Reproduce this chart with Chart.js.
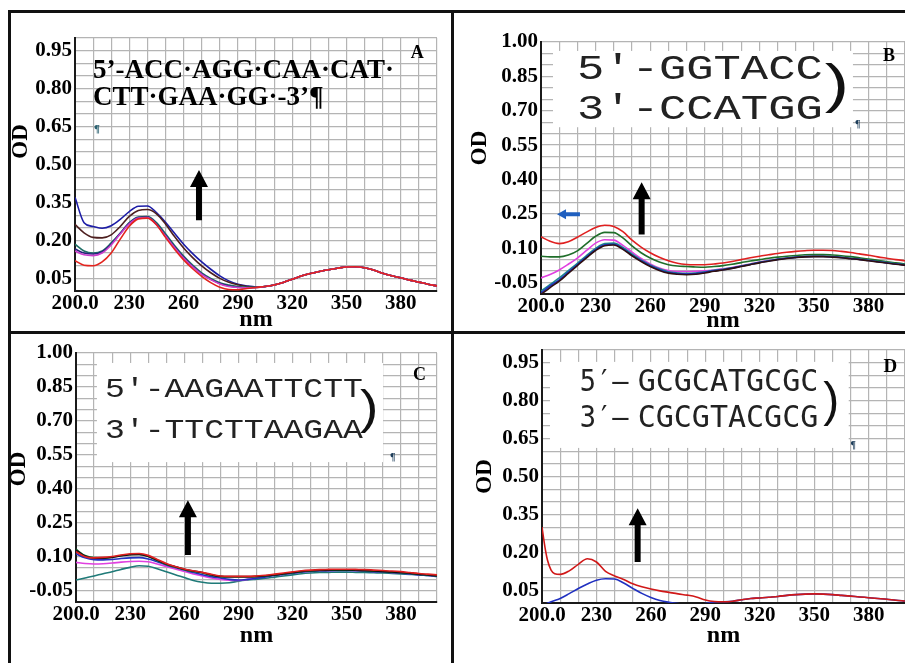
<!DOCTYPE html>
<html><head><meta charset="utf-8">
<script src="https://cdn.jsdelivr.net/npm/chart.js@4.4.1/dist/chart.umd.min.js"></script>
<style>
html,body{margin:0;padding:0;background:#fff;}
#wrap{position:relative;width:905px;height:663px;overflow:hidden;background:#fff;}
canvas{position:absolute;left:0;top:0;}
.ln{position:absolute;background:#111;}
</style></head><body>
<div id="wrap">
<canvas id="cA" width="905" height="663"></canvas>
<canvas id="cB" width="905" height="663"></canvas>
<canvas id="cC" width="905" height="663"></canvas>
<canvas id="cD" width="905" height="663"></canvas>
<div class="ln" style="left:8px;top:10px;width:897px;height:3px"></div>
<div class="ln" style="left:8px;top:10px;width:3px;height:653px"></div>
<div class="ln" style="left:451px;top:10px;width:3px;height:653px"></div>
<div class="ln" style="left:8px;top:331px;width:897px;height:3px"></div>
</div>
<script>
// ---------------- data ----------------
const wavelengths = [200,205,210,215,220,225,230,235,240,245,250,255,260,265,270,275,280,285,290,295,300,305,310,315,320,325,330,335,340,345,350,355,360,365,370,375,380,385,390,395,400];
const wavelengthsD = [200,201,202,203,205,207,210,215,220,225,230,235,240,245,250,255,260,265,270,275,280,285,290,295,300,305,310,315,320,325,330,335,340,345,350,355,360,365,370,375,380,385,390,395,400];

const xTickValues = [200,230,260,290,320,350,380];
const xTickLabels = ['200.0','230','260','290','320','350','380'];
const yTickLabelsA = ['0.05','0.20','0.35','0.50','0.65','0.80','0.95'];
const yTickLabelsB = ['-0.05','0.10','0.25','0.40','0.55','0.70','0.85','1.00'];
const yTickLabelsC = ['-0.05','0.10','0.25','0.40','0.55','0.70','0.85','1.00'];
const yTickLabelsD = ['0.05','0.20','0.35','0.50','0.65','0.80','0.95'];

// Panel A
const odA_red     = [0.120,0.102,0.100,0.115,0.150,0.205,0.256,0.285,0.288,0.262,0.212,0.165,0.123,0.088,0.058,0.033,0.015,0.006,0.005,0.010,0.014,0.018,0.024,0.034,0.046,0.059,0.069,0.077,0.084,0.090,0.095,0.096,0.092,0.083,0.070,0.060,0.052,0.043,0.035,0.027,0.020];
const odA_blue    = [0.370,0.270,0.255,0.248,0.258,0.283,0.314,0.335,0.336,0.310,0.272,0.228,0.185,0.148,0.115,0.086,0.060,0.040,0.027,0.020,0.016,0.018,0.024,0.034,0.046,0.059,0.069,0.077,0.084,0.090,0.095,0.096,0.092,0.083,0.070,0.060,0.052,0.043,0.035,0.027,0.020];
const odA_brown   = [0.263,0.230,0.212,0.210,0.222,0.255,0.295,0.318,0.322,0.305,0.265,0.215,0.170,0.132,0.099,0.072,0.050,0.035,0.025,0.018,0.015,0.018,0.024,0.034,0.046,0.059,0.069,0.077,0.084,0.090,0.095,0.096,0.092,0.083,0.070,0.060,0.052,0.043,0.035,0.027,0.020];
const odA_teal    = [0.185,0.158,0.150,0.158,0.190,0.228,0.270,0.292,0.294,0.270,0.226,0.180,0.138,0.102,0.072,0.050,0.033,0.024,0.018,0.015,0.015,0.018,0.024,0.034,0.046,0.059,0.069,0.077,0.084,0.090,0.095,0.096,0.092,0.083,0.070,0.060,0.052,0.043,0.035,0.027,0.020];
const odA_navy    = [0.166,0.150,0.146,0.155,0.186,0.228,0.268,0.290,0.292,0.265,0.220,0.175,0.133,0.097,0.068,0.046,0.030,0.020,0.015,0.013,0.014,0.018,0.024,0.034,0.046,0.059,0.069,0.077,0.084,0.090,0.095,0.096,0.092,0.083,0.070,0.060,0.052,0.043,0.035,0.027,0.020];
const odA_magenta = [0.158,0.143,0.140,0.150,0.182,0.225,0.265,0.288,0.290,0.262,0.217,0.172,0.130,0.095,0.066,0.045,0.028,0.018,0.014,0.013,0.014,0.018,0.024,0.034,0.046,0.059,0.069,0.077,0.084,0.090,0.095,0.096,0.092,0.083,0.070,0.060,0.052,0.043,0.035,0.027,0.020];

// Panel B
const odB_red     = [0.150,0.130,0.120,0.128,0.148,0.170,0.190,0.200,0.195,0.172,0.135,0.105,0.080,0.060,0.045,0.034,0.029,0.028,0.028,0.031,0.035,0.042,0.050,0.058,0.065,0.071,0.077,0.082,0.086,0.089,0.091,0.091,0.090,0.086,0.081,0.075,0.069,0.062,0.056,0.050,0.045];
const odB_green   = [0.065,0.062,0.062,0.070,0.088,0.120,0.152,0.169,0.168,0.145,0.110,0.080,0.057,0.040,0.028,0.022,0.020,0.018,0.017,0.020,0.024,0.030,0.037,0.044,0.050,0.056,0.061,0.065,0.068,0.071,0.072,0.072,0.070,0.067,0.063,0.058,0.053,0.047,0.041,0.036,0.031];
const odB_magenta = [-0.030,-0.015,0.005,0.030,0.057,0.090,0.122,0.137,0.135,0.112,0.083,0.055,0.031,0.013,0.002,-0.002,-0.002,-0.001,0.001,0.005,0.010,0.016,0.023,0.031,0.039,0.046,0.052,0.057,0.061,0.064,0.065,0.065,0.063,0.060,0.056,0.052,0.047,0.042,0.037,0.032,0.028];
const odB_teal    = [-0.088,-0.058,-0.030,0.002,0.034,0.068,0.099,0.120,0.122,0.103,0.075,0.049,0.027,0.010,-0.003,-0.008,-0.010,-0.008,-0.003,0.003,0.008,0.014,0.022,0.030,0.038,0.045,0.052,0.057,0.061,0.064,0.065,0.065,0.063,0.060,0.056,0.052,0.047,0.042,0.037,0.032,0.028];
const odB_blue    = [-0.095,-0.065,-0.038,-0.005,0.028,0.062,0.094,0.115,0.117,0.098,0.070,0.045,0.023,0.006,-0.006,-0.011,-0.013,-0.011,-0.005,0.001,0.006,0.013,0.021,0.029,0.037,0.044,0.051,0.056,0.060,0.063,0.064,0.064,0.062,0.059,0.055,0.051,0.046,0.041,0.036,0.031,0.027];
const odB_black   = [-0.102,-0.072,-0.044,-0.010,0.024,0.058,0.090,0.111,0.114,0.095,0.067,0.042,0.020,0.003,-0.009,-0.014,-0.016,-0.014,-0.008,-0.001,0.005,0.012,0.020,0.028,0.036,0.043,0.050,0.055,0.059,0.062,0.063,0.063,0.061,0.058,0.054,0.050,0.045,0.040,0.035,0.030,0.026];

// Panel C
const odC_red     = [0.122,0.100,0.095,0.097,0.101,0.108,0.113,0.114,0.106,0.088,0.070,0.057,0.046,0.038,0.031,0.022,0.015,0.013,0.013,0.013,0.015,0.018,0.023,0.028,0.033,0.038,0.041,0.043,0.044,0.045,0.045,0.044,0.043,0.041,0.039,0.037,0.034,0.030,0.026,0.023,0.020];
const odC_black   = [0.130,0.103,0.094,0.094,0.097,0.104,0.109,0.110,0.102,0.085,0.068,0.056,0.045,0.037,0.030,0.020,0.013,0.012,0.012,0.012,0.013,0.016,0.020,0.025,0.030,0.035,0.038,0.040,0.041,0.042,0.042,0.041,0.039,0.037,0.035,0.033,0.030,0.027,0.023,0.020,0.016];
const odC_green   = [0.133,0.105,0.096,0.095,0.098,0.105,0.110,0.110,0.101,0.083,0.066,0.054,0.043,0.035,0.028,0.018,0.012,0.011,0.011,0.011,0.012,0.015,0.019,0.024,0.029,0.034,0.037,0.039,0.040,0.041,0.041,0.040,0.038,0.036,0.034,0.032,0.029,0.026,0.022,0.019,0.015];
const odC_blue    = [0.113,0.095,0.087,0.086,0.088,0.092,0.095,0.096,0.090,0.078,0.064,0.052,0.041,0.030,0.020,0.012,0.006,0.000,-0.003,0.000,0.005,0.011,0.017,0.022,0.027,0.032,0.035,0.037,0.038,0.039,0.039,0.038,0.036,0.034,0.032,0.030,0.027,0.024,0.020,0.017,0.013];
const odC_magenta = [0.075,0.070,0.068,0.069,0.072,0.076,0.079,0.080,0.078,0.068,0.057,0.046,0.035,0.024,0.015,0.006,0.000,-0.004,-0.005,0.000,0.006,0.012,0.018,0.023,0.028,0.033,0.036,0.038,0.039,0.040,0.040,0.039,0.037,0.035,0.033,0.031,0.028,0.025,0.021,0.018,0.014];
const odC_teal    = [-0.003,0.006,0.015,0.025,0.034,0.044,0.053,0.060,0.058,0.047,0.034,0.020,0.008,-0.005,-0.013,-0.017,-0.017,-0.015,-0.008,-0.003,0.001,0.005,0.010,0.015,0.020,0.025,0.028,0.030,0.031,0.032,0.032,0.031,0.030,0.029,0.028,0.026,0.024,0.022,0.020,0.017,0.014];

// Panel D
const odD_red  = [0.300,0.250,0.205,0.170,0.130,0.116,0.113,0.127,0.153,0.175,0.162,0.125,0.107,0.093,0.076,0.064,0.055,0.048,0.042,0.036,0.031,0.024,0.012,0.006,0.005,0.007,0.013,0.018,0.020,0.023,0.026,0.030,0.033,0.035,0.036,0.035,0.033,0.030,0.027,0.024,0.021,0.018,0.015,0.011,0.008];
const odD_blue = [-0.010,-0.007,-0.004,-0.001,0.005,0.010,0.018,0.037,0.057,0.075,0.090,0.096,0.095,0.079,0.058,0.038,0.022,0.010,0.003,-0.002,-0.005,-0.005,-0.002,0.004,0.005,0.007,0.013,0.018,0.020,0.023,0.026,0.030,0.033,0.035,0.036,0.035,0.033,0.030,0.027,0.024,0.021,0.018,0.015,0.011,0.008];

// ---------------- annotations (data coordinates) ----------------
const SERIF = '"Liberation Serif", "Times New Roman", serif';
const MONO = '"Liberation Mono", monospace';
const notes = {
  cA: {
    boxes: [],
    texts: [
      {text:'5’-ACC·AGG·CAA·CAT·', x:209.9, y:0.842, font:'bold 27px '+SERIF},
      {text:'CTT·GAA·GG·-3’¶', x:209.9, y:0.735, font:'bold 27px '+SERIF},
      {text:'¶', x:210.5, y:0.628, font:'bold 11px '+SERIF, color:'#2a6070'},
      {text:'A', x:385.5, y:0.921, font:'bold 18px '+SERIF}
    ],
    arrows: [{type:'up', x:268.5, y0:0.28, y1:0.478}]
  },
  cB: {
    boxes: [{x0:206.6, x1:371.4, y0:0.961, y1:0.628}],
    texts: [
      {text:'5′-GGTACC', x:219.8, y:0.838, font:'35px '+MONO, sx:1.3, color:'#222'},
      {text:'3′-CCATGG', x:219.8, y:0.663, font:'35px '+MONO, sx:1.3, color:'#222'},
      {text:')', x:362.6, y:0.805, font:'54px "Liberation Sans", sans-serif', sx:1.35, align:'center', baseline:'middle', color:'#111'},
      {text:'¶', x:372.5, y:0.628, font:'bold 10px '+SERIF, color:'#1d3d5a'},
      {text:'B', x:387.9, y:0.917, font:'bold 18px '+SERIF}
    ],
    arrows: [{type:'up', x:255.3, y0:0.160, y1:0.388}, {type:'left', x0:208.8, x1:221.4, y:0.248, color:'#1f5fbf'}]
  },
  cC: {
    boxes: [{x0:211.6, x1:370.1, y0:0.956, y1:0.518}],
    texts: [
      {text:'5′-AAGAATTCTT', x:216.1, y:0.805, font:'28px '+MONO, sx:1.18, color:'#222'},
      {text:'3′-TTCTTAAGAA', x:216.1, y:0.624, font:'28px '+MONO, sx:1.18, color:'#222'},
      {text:')', x:362.5, y:0.748, font:'46px "Liberation Sans", sans-serif', sx:1.2, align:'center', baseline:'middle', color:'#111'},
      {text:'¶', x:374, y:0.527, font:'bold 10px '+SERIF, color:'#1d3d5a'},
      {text:'C', x:386.7, y:0.881, font:'bold 18px '+SERIF}
    ],
    arrows: [{type:'up', x:262, y0:0.108, y1:0.35}]
  },
  cD: {
    boxes: [{x0:204.4, x1:369, y0:0.953, y1:0.613}],
    texts: [
      {text:'5′–', x:220.8, y:0.838, font:'30px "DejaVu Sans Mono", monospace', sx:0.9, color:'#222'},
      {text:'GCGCATGCGC', x:252.7, y:0.838, font:'30px "DejaVu Sans Mono", monospace', color:'#222'},
      {text:'3′–', x:220.8, y:0.696, font:'30px "DejaVu Sans Mono", monospace', sx:0.9, color:'#222'},
      {text:'CGCGTACGCG', x:252.7, y:0.696, font:'30px "DejaVu Sans Mono", monospace', color:'#222'},
      {text:')', x:359.4, y:0.792, font:'48px "Liberation Sans", sans-serif', align:'center', baseline:'middle', color:'#111'},
      {text:'¶', x:370, y:0.613, font:'bold 10px '+SERIF, color:'#1d3d5a'},
      {text:'D', x:388.2, y:0.913, font:'bold 19px '+SERIF}
    ],
    arrows: [{type:'up', x:252.7, y0:0.162, y1:0.375}]
  }
};

const notesPlugin = {
  id: 'panelNotes',
  afterDatasetsDraw(chart) {
    const n = notes[chart.canvas.id];
    if (!n) return;
    const ctx = chart.ctx, xs = chart.scales.x, ys = chart.scales.y;
    const X = v => xs.getPixelForValue(v), Y = v => ys.getPixelForValue(v);
    ctx.save();
    n.boxes.forEach(b => {
      const x0 = X(b.x0), x1 = X(b.x1), y0 = Y(b.y0), y1 = Y(b.y1);
      ctx.fillStyle = '#fff';
      ctx.fillRect(Math.min(x0,x1), Math.min(y0,y1), Math.abs(x1-x0), Math.abs(y1-y0));
    });
    n.texts.forEach(t => {
      ctx.save();
      ctx.font = t.font;
      ctx.fillStyle = t.color || '#000';
      ctx.textAlign = t.align || 'left';
      ctx.textBaseline = t.baseline || 'alphabetic';
      ctx.translate(X(t.x), Y(t.y));
      ctx.scale(t.sx || 1, 1);
      ctx.fillText(t.text, 0, 0);
      ctx.restore();
    });
    n.arrows.forEach(a => {
      ctx.beginPath();
      if (a.type === 'up') {
        const cx = X(a.x), yb = Y(a.y0), yt = Y(a.y1);
        const hl = 17, hw = 9, sw = 3;
        ctx.moveTo(cx, yt);
        ctx.lineTo(cx + hw, yt + hl);
        ctx.lineTo(cx + sw, yt + hl);
        ctx.lineTo(cx + sw, yb);
        ctx.lineTo(cx - sw, yb);
        ctx.lineTo(cx - sw, yt + hl);
        ctx.lineTo(cx - hw, yt + hl);
        ctx.closePath();
      } else {
        const xl = X(a.x0), xr = X(a.x1), cy = Y(a.y);
        const hl = 9, hw = 5, sw = 2;
        ctx.moveTo(xl, cy);
        ctx.lineTo(xl + hl, cy - hw);
        ctx.lineTo(xl + hl, cy - sw);
        ctx.lineTo(xr, cy - sw);
        ctx.lineTo(xr, cy + sw);
        ctx.lineTo(xl + hl, cy + sw);
        ctx.lineTo(xl + hl, cy + hw);
        ctx.closePath();
      }
      ctx.fillStyle = a.color || '#000';
      ctx.fill();
    });
    ctx.restore();
  }
};

// ---------------- panels ----------------
const panels = [
  {id:'cA', wl:wavelengths, yMin:0, yMax:1, yLabels:yTickLabelsA, odTitle:'        OD',
   pad:{left:10, top:38, right:468, bottom:331.5}, yW:65, xH:40.5,
   series:[
     {name:'A red', values:odA_red, color:'#e3241e'},
     {name:'A magenta', values:odA_magenta, color:'#cc3fcc'},
     {name:'A navy', values:odA_navy, color:'#25257a'},
     {name:'A teal', values:odA_teal, color:'#1f6f66'},
     {name:'A brown', values:odA_brown, color:'#4d1f1f'},
     {name:'A blue', values:odA_blue, color:'#1c1ca6'}
   ]},
  {id:'cB', wl:wavelengths, yMin:-0.1, yMax:1, yLabels:yTickLabelsB, odTitle:'       OD',
   pad:{left:468.5, top:42, right:0, bottom:330.5}, yW:72.5, xH:38.5,
   series:[
     {name:'B red', values:odB_red, color:'#e02020'},
     {name:'B black', values:odB_black, color:'#301010'},
     {name:'B blue', values:odB_blue, color:'#2030c0'},
     {name:'B teal', values:odB_teal, color:'#1a8a8a'},
     {name:'B green', values:odB_green, color:'#1f6e2a'},
     {name:'B magenta', values:odB_magenta, color:'#e040e0'}
   ]},
  {id:'cC', wl:wavelengths, yMin:-0.1, yMax:1, yLabels:yTickLabelsC, odTitle:'   OD',
   pad:{left:8, top:353, right:468, bottom:15.5}, yW:68, xH:45.5,
   series:[
     {name:'C red', values:odC_red, color:'#e02020'},
     {name:'C black', values:odC_black, color:'#111111'},
     {name:'C green', values:odC_green, color:'#1d7a3a'},
     {name:'C blue', values:odC_blue, color:'#2030c0'},
     {name:'C magenta', values:odC_magenta, color:'#e040e0'},
     {name:'C teal', values:odC_teal, color:'#1f7a78'}
   ]},
  {id:'cD', wl:wavelengthsD, yMin:0, yMax:1, yLabels:yTickLabelsD, odTitle:'OD',
   pad:{left:473.5, top:350, right:0, bottom:15.5}, yW:68.5, xH:44.5,
   series:[
     {name:'D red', values:odD_red, color:'#d01818'},
     {name:'D blue', values:odD_blue, color:'#2030c0'}
   ]}
];

const GRID = '#b4b4b4';
const tickFont = {family:'"Liberation Serif", serif', size:21, weight:'bold', lineHeight:1.2};

panels.forEach(p => {
  new Chart(document.getElementById(p.id), {
    type: 'line',
    data: {
      datasets: p.series.map(s => ({
        label: s.name,
        data: p.wl.map((w, i) => ({x: w, y: s.values[i]})),
        borderColor: s.color,
        backgroundColor: s.color,
        borderWidth: 1.6,
        pointRadius: 0,
        fill: false,
        cubicInterpolationMode: 'monotone'
      }))
    },
    options: {
      responsive: false,
      animation: false,
      devicePixelRatio: 1,
      layout: {padding: p.pad},
      plugins: {legend: {display: false}, tooltip: {enabled: false}},
      scales: {
        x: {
          type: 'linear', min: 200, max: 400,
          afterFit: s => { s.height = p.xH; },
          afterBuildTicks: s => { const t = []; for (let v = 200; v <= 400; v += 10) t.push({value: v}); s.ticks = t; },
          grid: {color: GRID, lineWidth: 1.2, drawTicks: false},
          border: {display: true, color: '#1a1a1a', width: 2},
          ticks: {autoSkip: false, maxRotation: 0, minRotation: 0, padding: 0, color: '#000', font: tickFont,
            callback: v => { const i = xTickValues.indexOf(v); return i >= 0 ? xTickLabels[i] : ''; }},
          title: {display: true, text: 'nm', color: '#000', padding: 0,
            font: {family: '"Liberation Serif", serif', size: 24, weight: 'bold', lineHeight: 1}}
        },
        y: {
          type: 'linear', min: p.yMin, max: p.yMax,
          afterFit: s => { s.width = p.yW; },
          afterBuildTicks: s => {
            const t = [];
            const start = Math.round(p.yMin * 100), end = Math.round(p.yMax * 100);
            for (let k = start; k <= end; k += 5) t.push({value: k / 100});
            s.ticks = t;
          },
          grid: {color: GRID, lineWidth: 1.2, drawTicks: false},
          border: {display: true, color: '#1a1a1a', width: 2},
          ticks: {autoSkip: false, padding: 3, color: '#000', font: tickFont,
            callback: v => { const s = Number(v).toFixed(2); return p.yLabels.includes(s) ? s : ''; }},
          title: {display: true, text: p.odTitle, color: '#000', padding: 0,
            font: {family: '"Liberation Serif", serif', size: 23, weight: 'bold', lineHeight: 1}}
        }
      }
    },
    plugins: [notesPlugin]
  });
});
</script>
</body></html>
